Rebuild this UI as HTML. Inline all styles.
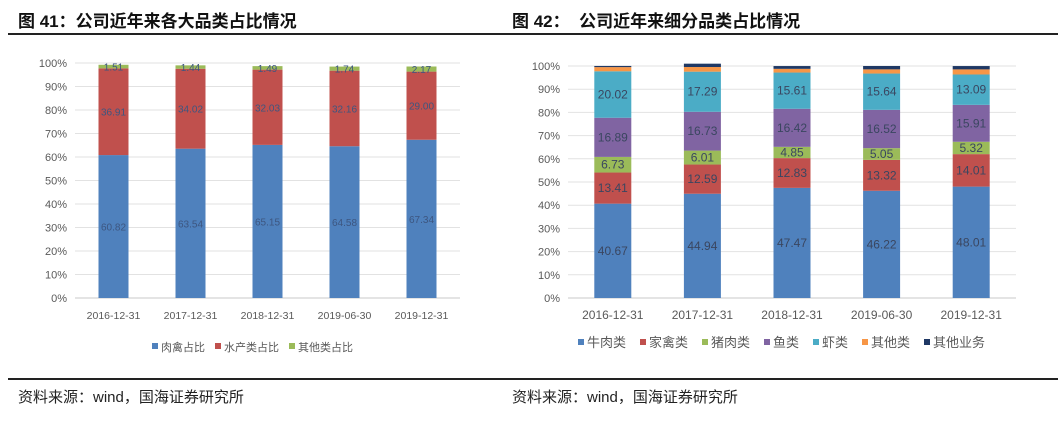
<!DOCTYPE html>
<html><head><meta charset="utf-8"><style>
body{margin:0;width:1064px;height:428px;background:#fff;overflow:hidden;font-family:"Liberation Sans","Noto Sans CJK SC",sans-serif;}
.t{position:absolute;font-weight:bold;font-size:17px;color:#111;top:7px;}
.s{position:absolute;font-size:15px;color:#222;top:386px;}
</style></head><body>
<div class="t" style="left:18px">图 41：公司近年来各大品类占比情况</div>
<div class="t" style="left:512px">图 42：&nbsp; 公司近年来细分品类占比情况</div>
<div style="position:absolute;left:8px;top:33px;width:1050px;height:2px;background:#222"></div>
<div style="position:absolute;left:8px;top:378px;width:1050px;height:2px;background:#222"></div>
<div class="s" style="left:18px">资料来源：wind，国海证券研究所</div>
<div class="s" style="left:512px">资料来源：wind，国海证券研究所</div>
<svg id="c" width="1064" height="428" style="position:absolute;left:0;top:0"></svg>
<script>
const cats=["2016-12-31","2017-12-31","2018-12-31","2019-06-30","2019-12-31"];
const leftNames=["肉禽占比","水产类占比","其他类占比"];
const leftMeat=[60.82,63.54,65.15,64.58,67.34];
const leftAqua=[36.91,34.02,32.03,32.16,29.00];
const leftOther=[1.51,1.44,1.49,1.74,2.17];
const rightNames=["牛肉类","家禽类","猪肉类","鱼类","虾类","其他类","其他业务"];
const rBeef=[40.67,44.94,47.47,46.22,48.01];
const rPoultry=[13.41,12.59,12.83,13.32,14.01];
const rPork=[6.73,6.01,4.85,5.05,5.32];
const rFish=[16.89,16.73,16.42,16.52,15.91];
const rShrimp=[20.02,17.29,15.61,15.64,13.09];
const rOther=[1.8,2.0,1.6,1.8,2.2];
const rBiz=[0.5,1.44,1.2,1.45,1.44];
const ticks=[0,10,20,30,40,50,60,70,80,90,100];
const NS="http://www.w3.org/2000/svg",svg=document.getElementById('c');
function mk(t,a,p){const e=document.createElementNS(NS,t);for(const k in a)e.setAttribute(k,a[k]);(p||svg).appendChild(e);return e;}
function chart(cfg){
 const g=mk('g',{});
 
 
 const y=v=>cfg.y0-(cfg.y0-cfg.y1)*v/100;
 const step=(cfg.x1-cfg.x0)/cats.length;
 ticks.forEach(t=>{
  const l=mk('line',{x1:cfg.x0,x2:cfg.x1,y1:y(t),y2:y(t),stroke:t===0?'#c8c8c8':'#e2e2e2','stroke-width':1},g);
  
  
  const tx=mk('text',{x:cfg.x0-8,y:y(t)+4,'text-anchor':'end','font-size':11,fill:'#595959'},g);
  tx.textContent=t+'%';
  
  
 });
 cats.forEach((c,i)=>{
  const cx=cfg.x0+step*(i+0.5);
  let acc=0;
  cfg.series.forEach((s,si)=>{
   const v=s[i];
   const r=mk('rect',{x:cx-cfg.bw/2,y:y(acc+v),width:cfg.bw,height:y(acc)-y(acc+v),fill:cfg.colors[si]},g);
   
   
   if(si<cfg.labeled){
    const t=mk('text',{x:cx,y:y(acc+v/2)+4,'text-anchor':'middle','font-size':cfg.fs,fill:cfg.lc},g);
    t.textContent=v.toFixed(2);
    
    
   }
   acc+=v;
  });
  const t=mk('text',{x:cx,y:cfg.y0+21,'text-anchor':'middle','font-size':cfg.xfs,fill:'#595959'},g);
  t.textContent=c;
  
  
 });
 let lx=cfg.lx;
 cfg.names.forEach((n,i)=>{
  const r=mk('rect',{x:lx,y:cfg.ly-8,width:6,height:6,fill:cfg.colors[i]},g);
  
  
  const t=mk('text',{x:lx+9,y:cfg.ly,'font-size':cfg.lfs,fill:'#595959'},g);
  t.textContent=n;
  
  
  lx+=9+n.length*cfg.lfs+cfg.lgap;
 });
}
chart({name:'left-chart',x0:75,x1:460,y0:298,y1:63,bw:30,series:[leftMeat,leftAqua,leftOther],
 colors:['#4f81bd','#c0504d','#9bbb59'],labeled:3,fs:10,lc:'#3d5680',xfs:10.5,
 names:leftNames,lx:152,ly:351,lfs:11,lgap:10});
chart({name:'right-chart',x0:568,x1:1016,y0:298,y1:66,bw:37,series:[rBeef,rPoultry,rPork,rFish,rShrimp,rOther,rBiz],
 colors:['#4f81bd','#c0504d','#9bbb59','#8064a2','#4bacc6','#f79646','#1f3864'],labeled:5,fs:12,lc:'#3a4660',xfs:12,
 names:rightNames,lx:578,ly:347,lfs:13,lgap:14});
</script>
</body></html>
